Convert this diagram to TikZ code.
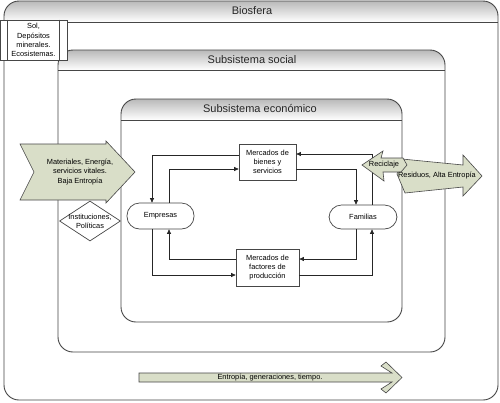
\documentclass[tikz,border=0pt]{standalone}
\usepackage{fontspec}
\setmainfont{Liberation Sans}
\usetikzlibrary{arrows.meta,calc,shapes.geometric}
\definecolor{edge}{RGB}{70,70,70}
\definecolor{arrowfill}{RGB}{217,222,200}
\definecolor{headtop}{RGB}{185,185,185}
\newcommand\sysbox[5]{%
  \begin{scope}
    \clip[rounded corners=15pt] (#1,#2) rectangle (#3,#4);
    \fill[white] (#1,#2) rectangle (#3,#4);
    \shade[top color=headtop, bottom color=white] (#1,#2) rectangle (#3,#5);
  \end{scope}
  \draw[frame, rounded corners=15pt] (#1,#2) rectangle (#3,#4);
  \draw[frame] (#1,#5) -- (#3,#5);}
\begin{document}
\begin{tikzpicture}[x=1pt,y=-1pt,
  small/.style={font=\fontsize{7.4}{9.2}\selectfont, align=center, text=black},
  title/.style={font=\fontsize{11}{13}\selectfont, text=black!85},
  frame/.style={draw=edge, line width=0.9pt},
  flow/.style={draw=black!85, line width=0.7pt, -{Triangle[length=4.5pt,width=4pt]}},
  bigarrow/.style={fill=arrowfill, draw=edge, line width=0.6pt},
  market/.style={draw=edge, fill=white, line width=0.7pt, minimum width=57, minimum height=36, inner sep=1pt, small},
  agent/.style={draw=edge, fill=white, line width=0.7pt, rounded corners=12.5pt, minimum width=67, minimum height=26, small}]
\useasboundingbox (0,0) rectangle (500,402);
\fill[white] (0,0) rectangle (500,402);

% nested systems
\sysbox{4}{1}{498}{400}{22}
\sysbox{58}{50}{445}{352}{70}
\sysbox{121}{99}{402}{322}{120}
\node[title] (tbio) at (252,11) {Biosfera};
\node[title] (tsoc) at (252,60) {Subsistema social};
\node[title] (teco) at (260,109) {Subsistema económico};

% resources box
\node[draw=edge, fill=white, line width=0.7pt, minimum width=67, minimum height=40, inner sep=0, small] (sol) at (33.5,40) {Sol,\\Depósitos\\minerales.\\Ecosistemas.};
\draw[edge, line width=0.7pt] ($(sol.north west)+(8,0)$) -- ($(sol.south west)+(8,0)$);
\draw[edge, line width=0.7pt] ($(sol.north east)+(-8,0)$) -- ($(sol.south east)+(-8,0)$);

% economic nodes
\node[market] (bienes) at (267.5,162) {Mercados de\\bienes y\\servicios};
\node[market, minimum width=63, minimum height=37] (factores) at (267.5,267.5) {Mercados de\\factores de\\producción};
\node[agent] (emp) at (160.5,216) {Empresas};
\node[agent, minimum width=68, minimum height=24] (fam) at (363,217) {Familias};

% flows
\draw[flow] ($(bienes.west)+(0,-7)$) -| ($(emp.north)+(-8.5,0)$);
\draw[flow] ($(emp.north)+(8.5,0)$) |- ($(bienes.west)+(0,7)$);
\draw[flow] ($(bienes.east)+(0,7)$) -| ($(fam.north)+(-7,0)$);
\draw[flow] ($(fam.north)+(9,0)$) |- ($(bienes.east)+(0,-8)$);
\draw[flow] ($(fam.south)+(-7,0)$) |- ($(factores.east)+(0,-8.5)$);
\draw[flow] ($(factores.west)+(0,-8.5)$) -| ($(emp.south)+(8.5,0)$);
\draw[flow] ($(emp.south)+(-8.5,0)$) |- ($(factores.west)+(0,7.5)$);
\draw[flow] ($(factores.east)+(0,7.5)$) -| ($(fam.south)+(9,0)$);

% input arrow
\draw[bigarrow] (20,144) -- (106,144) -- (106,141) -- (135,172) -- (106,203) -- (106,200) -- (20,200) -- (34,172) -- cycle;
\node[small] (matin) at (80,172) {Materiales, Energía,\\servicios vitales.\\Baja Entropía};

% institutions
\node[diamond, draw=edge, fill=white, line width=0.7pt, minimum width=61, minimum height=40, inner sep=0] (inst) at (90,221) {};
\node[small] (instlab) at (inst.center) {Instituciones,\\Políticas};

% output arrows
\draw[bigarrow] (402,159) -- (463,165) -- (463,155) -- (482,176) -- (463,196) -- (463,187) -- (405,193) -- (397,174) -- cycle;
\draw[bigarrow] (362,165) -- (383,151) -- (381,158) -- (403,158) -- (407,165) -- (401,172) -- (383,172) -- (384,181) -- cycle;
\node[small] (recic) at (384,164.5) {Reciclaje};
\node[small] (resid) at (437,176) {Residuos, Alta Entropía};

% time arrow
\draw[bigarrow] (139,373) -- (392,373) -- (381,366) -- (386,362) -- (402,377.5) -- (386,393) -- (381,389) -- (392,382) -- (139,382) -- cycle;
\node[small] (tiempo) at (270,377.5) {Entropía, generaciones, tiempo.};
\end{tikzpicture}
\end{document}
